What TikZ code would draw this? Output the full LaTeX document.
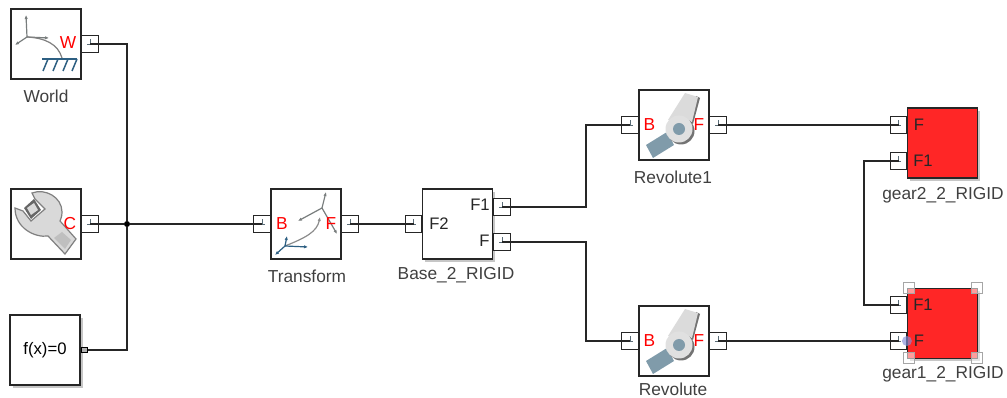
\documentclass[tikz,border=0pt]{standalone}
\usepackage{fontspec}
\setmainfont{Liberation Sans}
\usepackage{xcolor}
\usepackage{tikz}
\usetikzlibrary{shadows,arrows.meta}
\definecolor{gearred}{RGB}{255,38,38}
\definecolor{jointblue}{RGB}{128,155,170}
\definecolor{framegrey}{RGB}{120,125,125}
\definecolor{frameblue}{RGB}{45,95,130}

\begin{document}
\begin{tikzpicture}[
    x=0.75pt, y=-0.75pt,
    every node/.style={font=\fontsize{12.5pt}{14pt}\selectfont},
    block/.style={rectangle, draw=black!85, line width=0.9pt, fill=white, minimum size=52.5pt, inner sep=0pt},
    shadowed/.style={block, drop shadow={shadow xshift=2.2pt, shadow yshift=-2.2pt, opacity=0.45}},
    gearblock/.style={shadowed, fill=gearred},
    port/.style={rectangle, draw=black!85, line width=0.8pt, fill=white, minimum size=12.5pt, inner sep=0pt,
        path picture={\draw[jointblue!70!black, line width=0.6pt] (path picture bounding box.center) ++(-2pt,0pt) -- ++(4pt,0pt) ++(-2pt,0pt) -- ++(0pt,4pt);}},
    outport/.style={rectangle, draw=black, line width=0.8pt, fill=black!30, minimum width=4.5pt, minimum height=4pt, inner sep=0pt},
    junction/.style={circle, fill=black, inner sep=0pt, minimum size=4.5pt},
    caption/.style={text=black!75, inner sep=0pt, font=\fontsize{13pt}{15pt}\selectfont},
    portname/.style={text=black!85, inner sep=0pt},
    framename/.style={text=red, inner sep=0pt, font=\fontsize{13pt}{15pt}\selectfont},
    handle/.style={rectangle, draw=black!35, line width=0.7pt, fill=white, fill opacity=0.55, minimum size=8pt, inner sep=0pt},
    wire/.style={draw=black!85, line width=0.9pt},
    axis/.style={framegrey, line width=0.9pt, -{Latex[length=3pt,width=2.5pt]}},
    baseaxis/.style={frameblue, line width=0.9pt, -{Latex[length=3pt,width=2.5pt]}},
    revolute/.pic={
        \fill[jointblue] (-33,20) -- (-12,7) -- (-5,20) -- (-26,33) -- cycle;
        \fill[black!55] (17,-29) -- (21,-27) -- (14,-1) -- (10,-3) -- cycle;
        \fill[black!14] (6,-32) -- (19,-28) -- (13,-3) -- (-11,-5) -- cycle;
        \fill[black!55] (2,6) circle (13.5);
        \fill[black!12] (0,4) circle (13.5);
        \fill[jointblue] (0,4) circle (6);
    }
]
    \path[use as bounding box] (0,0) rectangle (1007,398);

    \node[block] (world) at (46,44) {};
    \node[block] (wrench) at (46,224) {};
    \node[shadowed] (fx) at (45,350) {f(x)=0};
    \node[block] (transform) at (306,224) {};
    \node[shadowed] (base) at (457.5,224) {};
    \node[block] (revolute1) at (674,125) {};
    \node[block] (revolute) at (674,341) {};
    \node[gearblock] (gear2) at (942.5,143) {};
    \node[gearblock] (gear1) at (942.5,323.5) {};

    \node[port] (worldW) at (90,44) {};
    \node[port] (wrenchC) at (90,224) {};
    \node[outport] (fxOut) at (84.5,350) {};
    \node[port] (transformB) at (262,224) {};
    \node[port] (transformF) at (350,224) {};
    \node[port] (baseF2) at (413.5,224) {};
    \node[port] (baseF1) at (502,207) {};
    \node[port] (baseF) at (502,242) {};
    \node[port] (revolute1B) at (630,125) {};
    \node[port] (revolute1F) at (718,125) {};
    \node[port] (revoluteB) at (630,341) {};
    \node[port] (revoluteF) at (718,341) {};
    \node[port] (gear2F) at (898.5,125) {};
    \node[port] (gear2F1) at (898.5,161) {};
    \node[port] (gear1F1) at (898.5,305) {};
    \node[port] (gear1F) at (898.5,341) {};
    \node[junction] (split) at (127,224) {};

    \draw[wire] (worldW.center) -| (split);
    \draw[wire] (fxOut.east) -| (split);
    \draw[wire] (wrenchC.center) -- (split);
    \draw[wire] (split) -- (transformB.center);
    \draw[wire] (transformF.center) -- (baseF2.center);
    \draw[wire] (baseF1.center) -- (586,207) |- (revolute1B.center);
    \draw[wire] (baseF.center) -- (586,242) |- (revoluteB.center);
    \draw[wire] (revolute1F.center) -- (gear2F.center);
    \draw[wire] (revoluteF.center) -- (gear1F.center);
    \draw[wire] (gear2F1.center) -- (864,161) |- (gear1F1.center);

    % world icon
    \draw[axis] (27,37) -- (26,15);
    \draw[axis] (27,37) -- (49,38);
    \draw[axis] (27,37) -- (15,45);
    \draw[black!50, line width=0.9pt] (27,37) .. controls (45,38) and (58,44) .. (62,58);
    \draw[frameblue, line width=1.3pt] (42,59) -- (77,59);
    \foreach \hx in {48,58,68,77} {\draw[frameblue, line width=1.1pt] (\hx,59) -- (\hx-5,71);}
    \node[framename] (worldlabel) at (68,43) {W};

    % wrench icon
    \fill[black!15, draw=black!50, line width=0.9pt] (32,193) .. controls (45,188) and (62,197) .. (62,212)
        .. controls (62,216) and (61,219) .. (60,221) -- (76,239) -- (65,254) -- (48,236)
        .. controls (35,238) and (15,228) .. (15,208) -- (23,211) -- (31,221) -- (45,209) -- (35,199) -- cycle;
    \fill[black!25] (62,232) -- (71,240) -- (65,249) -- (54,238) -- cycle;
    \fill[black!60] (24,208) -- (34,199) -- (41,210) -- (31,219) -- cycle;
    \fill[black!15] (27,208) -- (34,203) -- (38,210) -- (31,215) -- cycle;
    \node[framename] (wrenchlabel) at (70,224) {C};

    % transform icon
    \draw[axis] (322,208) -- (326,192);
    \draw[axis] (322,208) -- (298,221);
    \draw[axis] (322,208) -- (337,234);
    \draw[black!45, line width=0.9pt, -{Latex[length=3pt,width=2.5pt]}] (285,246) .. controls (305,238) and (317,232) .. (320,217);
    \draw[baseaxis] (285,246) -- (287,236);
    \draw[baseaxis] (285,246) -- (308,247);
    \draw[baseaxis] (285,246) -- (275,255);
    \node[framename] (transformlabelB) at (282,224) {B};
    \node[framename] (transformlabelF) at (331,224) {F};

    % revolute icons
    \pic at (679,125) {revolute};
    \pic at (679,341) {revolute};
    \node[framename] (revolute1labelB) at (649.5,125) {B};
    \node[framename] (revolute1labelF) at (699,125) {F};
    \node[framename] (revolutelabelB) at (649.5,341) {B};
    \node[framename] (revolutelabelF) at (699,341) {F};

    \node[portname] (baselabelF2) at (439,224) {F2};
    \node[portname] (baselabelF1) at (480,205) {F1};
    \node[portname] (baselabelF) at (484.5,241) {F};
    \node[portname] (gear2labelF) at (919,125) {F};
    \node[portname] (gear2labelF1) at (923,161) {F1};
    \node[portname] (gear1labelF1) at (923,305) {F1};
    \node[portname] (gear1labelF) at (919,341) {F};

    \node[handle] (handleA) at (909,288) {};
    \node[handle] (handleB) at (977,288) {};
    \node[handle] (handleC) at (909,358) {};
    \node[handle] (handleD) at (977,358) {};
    \fill[jointblue!60!blue!70, opacity=0.65] (gear1.west |- gear1F) circle (5);

    \node[caption] (worldname) at (46,96) {World};
    \node[caption] (transformname) at (307,276) {Transform};
    \node[caption] (basename) at (456,275) {Base\_2\_RIGID};
    \node[caption] (revolute1name) at (673,177) {Revolute1};
    \node[caption] (revolutename) at (673,389) {Revolute};
    \node[caption] (gear2name) at (943,195) {gear2\_2\_RIGID};
    \node[caption] (gear1name) at (943,374) {gear1\_2\_RIGID};
\end{tikzpicture}
\end{document}
